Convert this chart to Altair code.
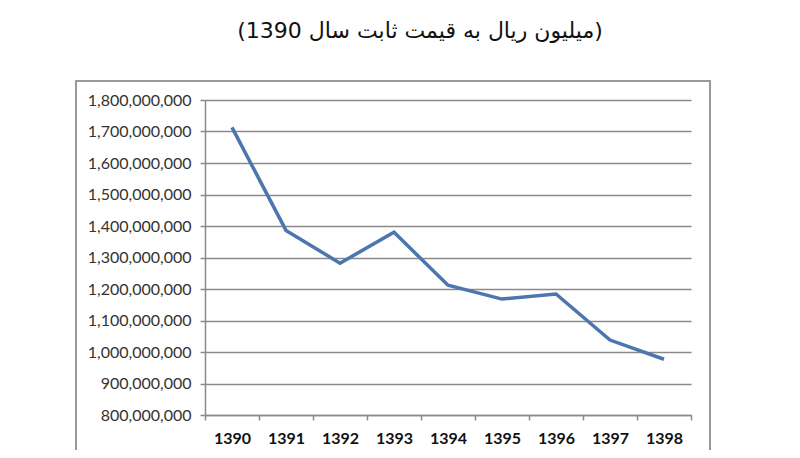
import altair as alt
import pandas as pd

years = ["1390", "1391", "1392", "1393", "1394", "1395", "1396", "1397", "1398"]
values = [1713e6, 1386e6, 1282e6, 1380e6, 1212e6, 1168e6, 1184e6, 1038e6, 977e6]
y_ticks = [800e6, 900e6, 1000e6, 1100e6, 1200e6, 1300e6, 1400e6, 1500e6, 1600e6, 1700e6, 1800e6]
title_text = "(میلیون ریال به قیمت ثابت سال 1390)"

df = pd.DataFrame({"year": years, "value": values})

W, H = 486, 315

frame = alt.Chart(df).mark_rect(
    fill=None, stroke="#9a9a9a", strokeWidth=1.5
).encode(
    x=alt.value(-129), x2=alt.value(505),
    y=alt.value(-19), y2=alt.value(380)
)

line = alt.Chart(df).mark_line(
    color="#4C76AD", strokeWidth=3.5, strokeJoin="miter"
).encode(
    x=alt.X("year:O", sort=years, bandPosition=0.5,
            scale=alt.Scale(type="band", paddingInner=0, paddingOuter=0),
            axis=alt.Axis(title=None, labelAngle=0, grid=False, tickBand="extent",
                          domainColor="#8a8a8a", domainWidth=1.5,
                          tickColor="#8a8a8a", tickWidth=1.5, tickSize=5,
                          labelFont="Lato", labelFontSize=16, labelFontWeight="bold",
                          labelColor="#111111", labelPadding=10)),
    y=alt.Y("value:Q",
            scale=alt.Scale(domain=[800e6, 1800e6], nice=False, zero=False),
            axis=alt.Axis(title=None, values=y_ticks, format=",.0f",
                          grid=True, gridColor="#8a8a8a", gridWidth=1.5,
                          domainColor="#8a8a8a", domainWidth=1.5,
                          tickColor="#8a8a8a", tickWidth=1.5, tickSize=5,
                          labelFont="Lato", labelFontSize=16, labelColor="#333333",
                          labelPadding=9))
)

chart = alt.layer(frame, line).properties(
    width=W, height=H,
    autosize=alt.AutoSizeParams(type="none"),
    padding={"left": 197, "top": 92, "right": 101, "bottom": 35},
    title=alt.TitleParams(title_text, font="DejaVu Sans", fontSize=22,
                          fontWeight="normal", color="#111111",
                          anchor="middle", dx=-28, offset=20, baseline="alphabetic")
).configure_view(stroke=None)

chart.save("out.html", embed_options={"renderer": "svg", "actions": False})
